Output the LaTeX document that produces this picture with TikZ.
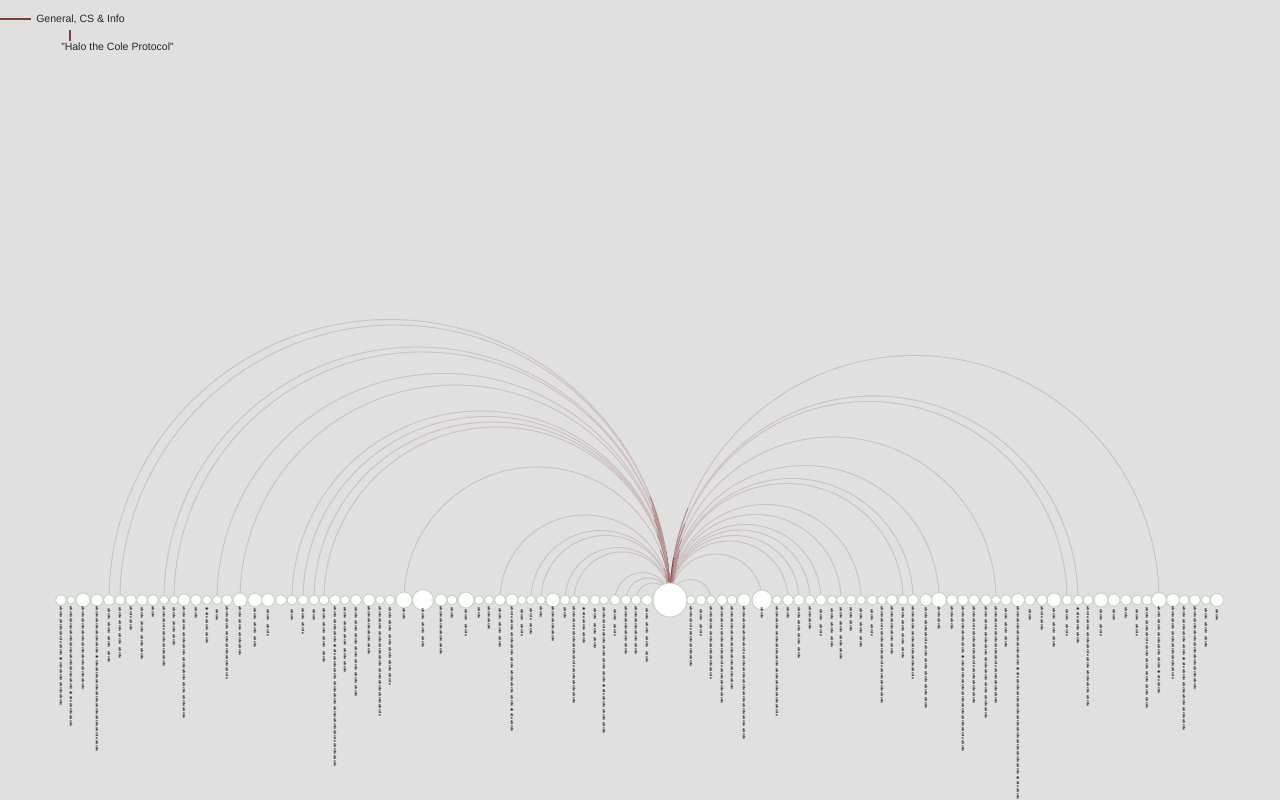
\documentclass[tikz,border=0pt]{standalone}
\usepackage{fontspec}
\setmainfont{Liberation Sans}
\definecolor{bg}{HTML}{E0E0E0}
\definecolor{arcl}{HTML}{CDBFBF}
\definecolor{arcm}{HTML}{B08888}
\definecolor{arcd}{HTML}{8B4848}
\definecolor{legc}{HTML}{7E3C3C}
\definecolor{bubd}{HTML}{C0D6C0}
\pgfdeclarelayer{bglayer}
\pgfdeclarelayer{arcs}
\pgfsetlayers{bglayer,arcs,main}
\tikzset{
  bub/.style={circle, fill=white, draw=bubd, line width=0.7pt, inner sep=0pt},
  lbl/.style={rotate=-90, anchor=west, inner sep=0pt, text=black},
  arcline/.style={line width=0.7pt},
  legline/.style={draw=legc, line width=1.5pt},
  legtxt/.style={inner sep=0pt, anchor=west, font=\fontsize{7.9}{9}\selectfont, text=black!85},
}
\newcommand\fillword{\hbox{\fontsize{2.6}{2.6}\selectfont\bfseries ab cde }}
\def\bubbles{61/5.5/707, 71/4/727, 83/7/690, 97/6/752, 109/5.5/665, 120/5/660, 131/5.5/632, 142/5.5/662, 153/5.5/618, 164/4.5/668, 174/4.5/648, 184/6/720, 196/5.5/620, 207/4.5/645, 217/4.5/625, 227/5.5/680, 240/7/657, 255/7/650, 268/6.5/640, 281/5.5/617, 292/5/625, 303/5/637, 314/5/625, 324/5/665, 335/5.5/768, 345/4.5/675, 356/5.5/698, 369/6/655, 380/4.5/717, 390/5/687, 404/8/622, 423/10.5/650, 441/6/655, 452/5/620, 466/8/640, 479/4.5/620, 489/4.5/630, 500/5.5/650, 512/6/733, 522/4.5/640, 531/4.5/638, 541/4.5/618, 553/7/642, 565/5/620, 574/4.5/705, 584/5/645, 595/5/652, 604/4.5/735, 615/5/640, 626/5/655, 636/5/655, 647/5.5/665, 691/4.5/668, 701/5/640, 711/4.5/680, 722/5.5/705, 732/5/690, 744/6.5/740, 762/10/620, 777/4.5/717, 788/5.5/620, 799/5.5/660, 810/5/630, 821/5.5/640, 832/4.5/650, 841/4.5/662, 851/5/633, 861/4.5/650, 872/5/640, 882/4.5/705, 892/5.5/655, 903/5/660, 913/5.5/680, 926/6/710, 939/7.5/630, 952/5.5/630, 963/5.5/752, 974/5.5/705, 986/5.5/720, 996/4.5/705, 1006/5.5/650, 1018/6.5/800, 1030/5.5/625, 1042/5.5/632, 1054/7/650, 1067/5/640, 1078/5/645, 1088/5/708, 1101/7/640, 1114/6/625, 1126/5.5/620, 1137/5/640, 1147/5/710, 1159/7.5/695, 1173/6.5/680, 1184/5/732, 1195/5.5/690, 1206/4.5/650, 1217/6.5/625}
\def\leftarcs{109,120,164,174,217,240,292,303,314,324,404,500,531,541,565,574,615,626,636}
\def\rightarcs{711,762,788,799,810,821,841,861,903,913,939,996,1067,1078,1159}
\begin{document}
\begin{tikzpicture}[x=0.75pt,y=0.75pt]
\begin{pgfonlayer}{bglayer}
\fill[bg] (0,0) rectangle (1280,800);
\end{pgfonlayer}
\useasboundingbox (0,0) rectangle (1280,800);
% hub
\node[bub, minimum size=25.5pt] (hub) at (670,200) {};
% bubbles and labels
\foreach \x/\r/\e in \bubbles {
  \pgfmathsetmacro\d{1.5*\r}
  \pgfmathsetmacro\L{(\e-606)*0.75}
  \node[bub, minimum size=\d pt] (c\x) at (\x,200) {};
  \node[lbl] (t\x) at (\x,194) {\hbox to \L pt{\xleaders\fillword\hfill}};
}
% arcs
\begin{pgfonlayer}{arcs}
\foreach \t in \leftarcs {
  \pgfmathsetmacro\R{(670-\t)/2}
  \draw[arcline, arcl] (hub.center) arc[start angle=0, end angle=180, radius=\R];
  \draw[arcline, arcm] (hub.center) arc[start angle=0, end angle=22, radius=\R];
  \draw[arcline, arcd] (hub.center) arc[start angle=0, end angle=10, radius=\R];
}
\foreach \t in \rightarcs {
  \pgfmathsetmacro\R{(\t-670)/2}
  \draw[arcline, arcl] (hub.center) arc[start angle=180, end angle=0, radius=\R];
  \draw[arcline, arcm] (hub.center) arc[start angle=180, end angle=158, radius=\R];
  \draw[arcline, arcd] (hub.center) arc[start angle=180, end angle=170, radius=\R];
}
\end{pgfonlayer}
% legend
\coordinate (l0) at (0,781);
\coordinate (l1) at (31,781);
\node[legtxt] (gen) at (36,781) {General, CS \& Info};
\draw[legline] (l0) -- (l1);
\node[legtxt] (halo) at (61,753) {"Halo the Cole Protocol"};
\coordinate (v0) at (70,770);
\coordinate (v1) at (70,759);
\draw[legline] (v0) -- (v1);
\end{tikzpicture}
\end{document}
